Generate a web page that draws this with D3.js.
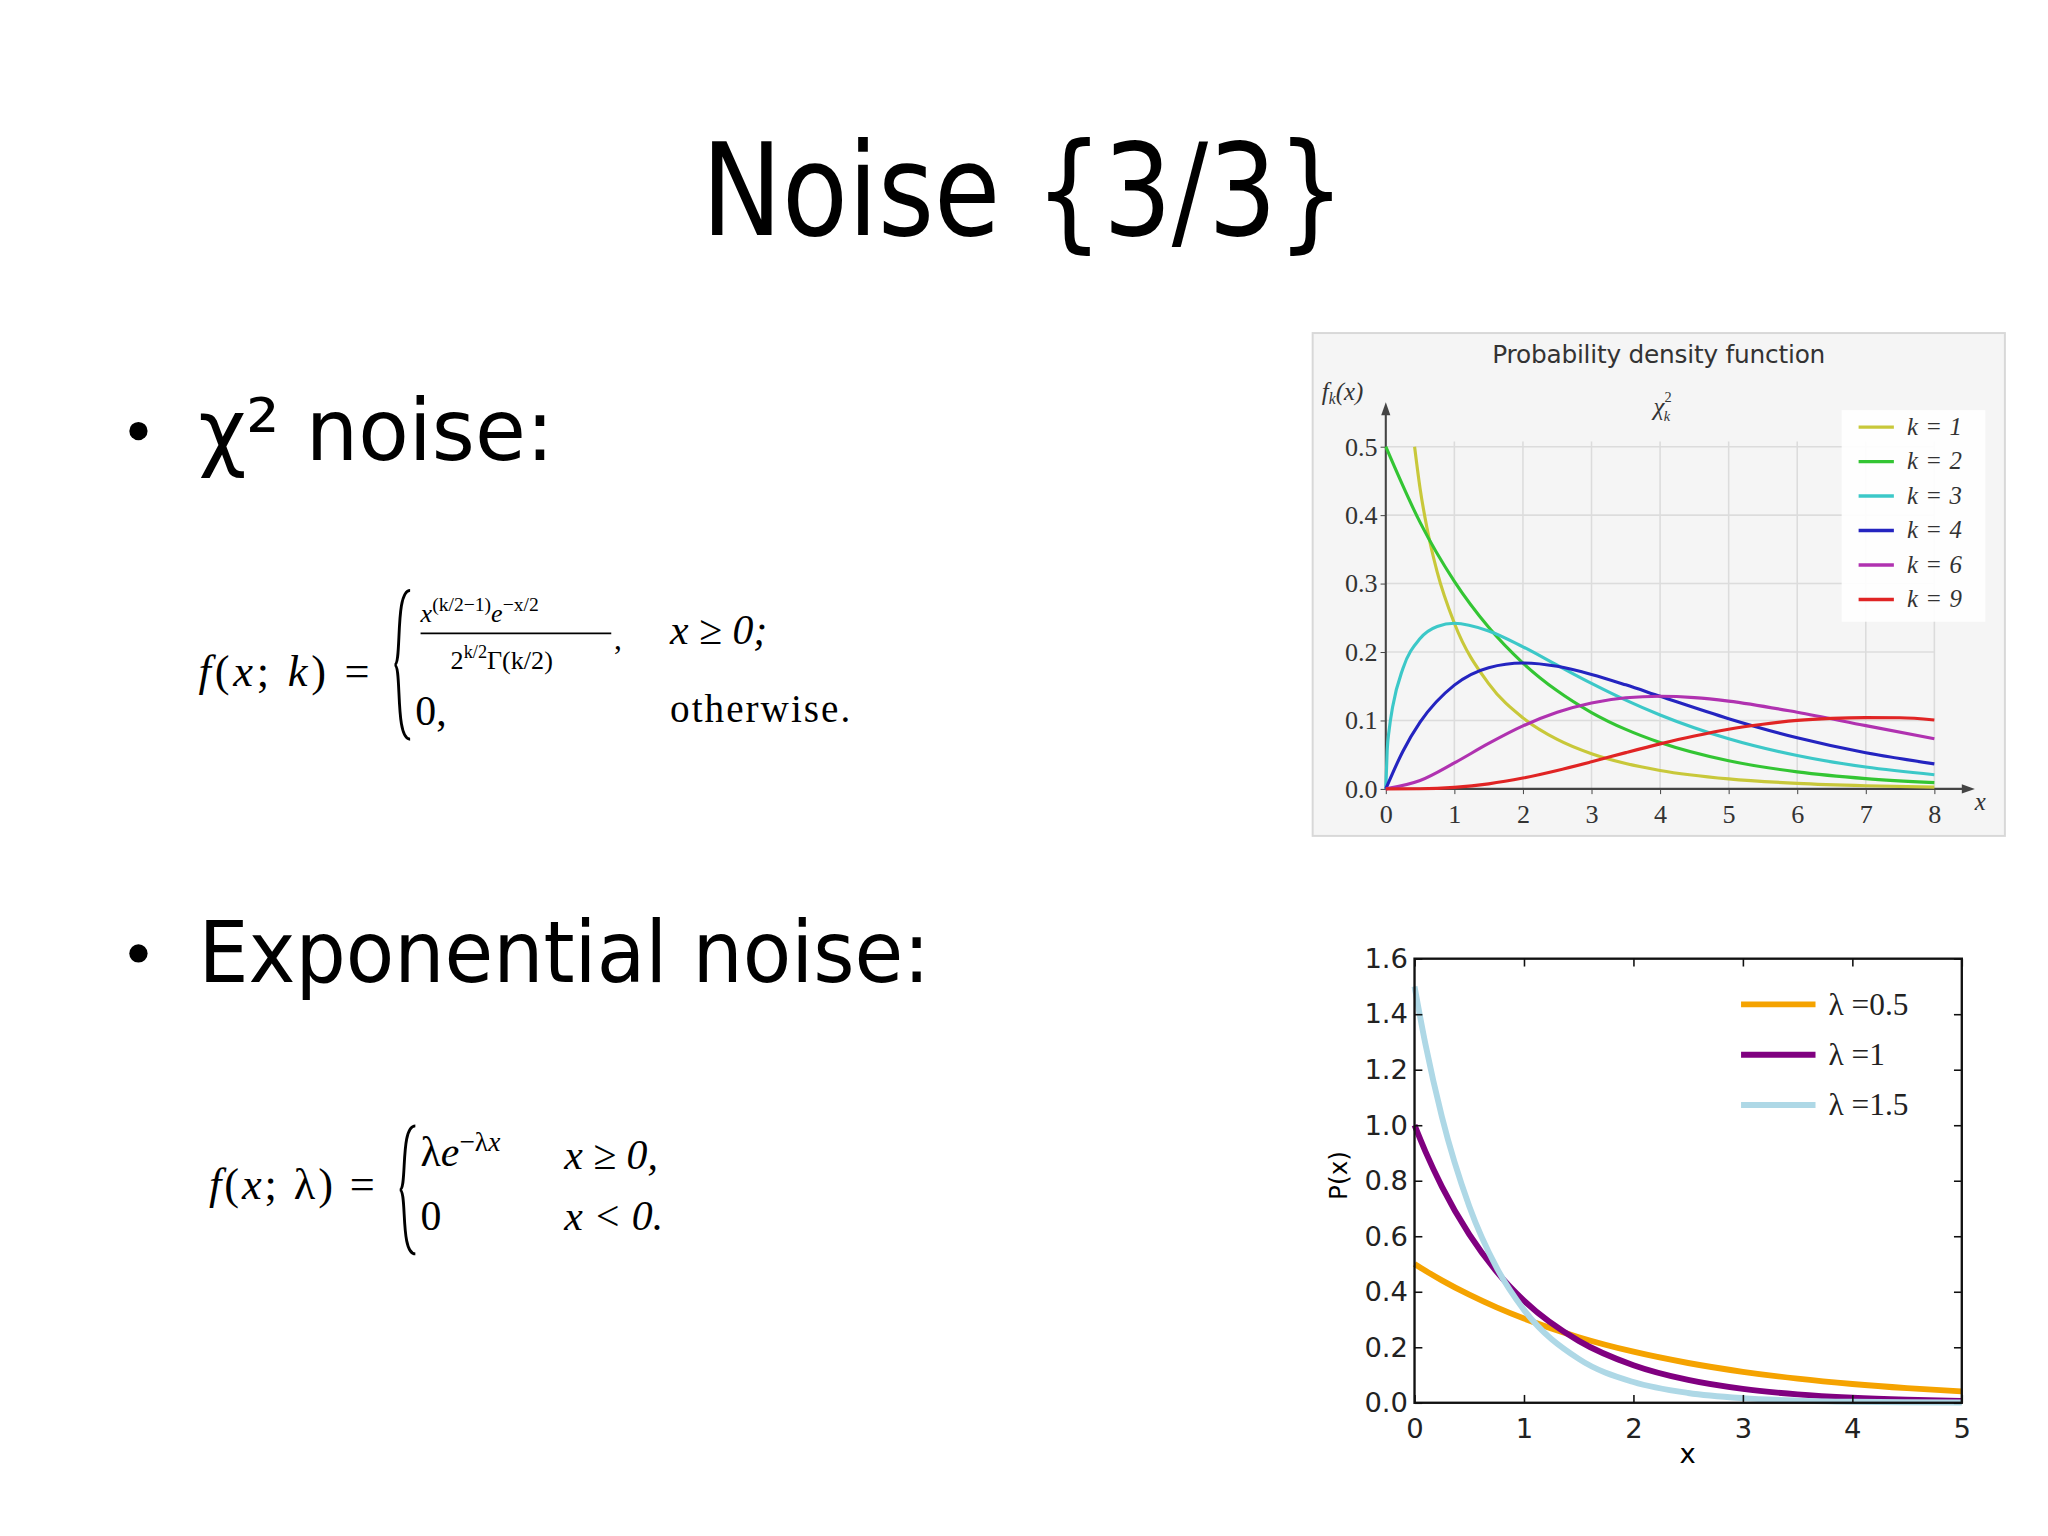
<!DOCTYPE html>
<html><head><meta charset="utf-8">
<script src="https://cdn.jsdelivr.net/npm/d3@7"></script>
<style>body{margin:0;background:#fff}svg{display:block}</style>
</head><body>
<script>
// ---- data ----
const chiSeries = ["k=1","k=2","k=3","k=4","k=6","k=9"];
const chiColors = ["#c8c83a","#33c533","#3cc8c8","#2424c0","#b032b0","#e02424"];
const chiX1 = [0.42,0.5,0.6,0.75,1,1.5,2,2.5,3,3.5,4,5,6,7,8];
const chiY1 = [0.5,0.439,0.3815,0.3166,0.242,0.1539,0.1038,0.0723,0.0514,0.0371,0.027,0.01465,0.0081,0.00455,0.00258];
const chiX2 = [0,0.5,1,1.5,2,2.5,3,3.5,4,5,6,7,8];
const chiY2 = [0.5,0.3894,0.3033,0.2362,0.1839,0.1433,0.1116,0.0869,0.0677,0.041,0.0249,0.0151,0.0092];
const chiX3 = [0,0.02,0.05,0.1,0.25,0.5,0.75,1,1.5,2,2.5,3,3.5,4,5,6,7,8];
const chiY3 = [0,0.056,0.087,0.12,0.176,0.2197,0.2374,0.242,0.2308,0.2076,0.1807,0.1542,0.1297,0.108,0.0732,0.0487,0.0319,0.0207];
const chiX4 = [0,0.25,0.5,1,1.5,2,2.5,3,3.5,4,5,6,7,8];
const chiY4 = [0,0.0551,0.0974,0.1516,0.1771,0.1839,0.1791,0.1673,0.152,0.1353,0.1026,0.0747,0.0528,0.0366];
const chiX6 = [0,0.5,1,1.5,2,2.5,3,3.5,4,4.5,5,6,7,8];
const chiY6 = [0,0.0122,0.0379,0.0664,0.092,0.1119,0.1255,0.1331,0.1353,0.1334,0.1283,0.112,0.0925,0.0733];
const chiX9 = [0,0.5,1,1.5,2,2.5,3,3.5,4,4.5,5,5.5,6,6.5,7,7.5,8];
const chiY9 = [0,0.00026,0.0023,0.0074,0.0158,0.0269,0.0396,0.053,0.0658,0.0773,0.0872,0.0945,0.1001,0.103,0.1041,0.104,0.1007];
const chiXTicks = [0,1,2,3,4,5,6,7,8];
const chiYTicks = [0,0.1,0.2,0.3,0.4,0.5];

const expSeries = ["λ =0.5","λ =1","λ =1.5"];
const expColors = ["#f5a300","#800080","#aed8e6"];
const expX = [0,0.1,0.25,0.5,0.75,1,1.5,2,2.5,3,3.5,4,4.5,5];
const expY05 = [0.5,0.4756,0.4412,0.3894,0.3436,0.3033,0.2362,0.1839,0.1433,0.1116,0.0869,0.0677,0.0527,0.041];
const expY1 = [1,0.9048,0.7788,0.6065,0.4724,0.3679,0.2231,0.1353,0.0821,0.0498,0.0302,0.0183,0.0111,0.0067];
const expY15 = [1.5,1.291,1.0307,0.7085,0.4869,0.3347,0.1581,0.0747,0.0353,0.0167,0.0079,0.0037,0.0018,0.0008];
const expXTicks = [0,1,2,3,4,5];
const expYTicks = [0,0.2,0.4,0.6,0.8,1.0,1.2,1.4,1.6];

// ---- page ----
const S = 2048/1568;
const svg = d3.select("body").append("svg").attr("width",2048).attr("height",1536);
const sans = "DejaVu Sans, Verdana, sans-serif";
const lserif = "'Liberation Serif','DejaVu Serif',serif";

svg.append("text").attr("x",537*S).attr("y",180*S)
  .attr("font-family",sans).attr("font-size",98*S)
  .attr("textLength",493*S).attr("lengthAdjust","spacingAndGlyphs").text("Noise {3/3}");

function bullet(y, txt, len){
  svg.append("circle").attr("cx",106*S).attr("cy",(y-22)*S).attr("r",7*S).attr("fill","#000");
  svg.append("text").attr("x",152*S).attr("y",y*S).attr("font-family",sans).attr("font-size",66*S)
    .attr("textLength",len*S).attr("lengthAdjust","spacingAndGlyphs").text(txt);
}
bullet(352,"χ² noise:",272);
bullet(752,"Exponential noise:",560);

// formulas
function t(x,y,txt,size,italic,anchor){
  return svg.append("text").attr("x",x*S).attr("y",y*S).attr("font-family",lserif)
    .attr("font-size",size*S).attr("font-style",italic?"italic":"normal")
    .attr("text-anchor",anchor||"start").text(txt);
}
function brace(x,y1,y2){
  const ym=(y1+y2)/2, w=12;
  svg.append("path").attr("d",`M${(x+w)*S},${y1*S} C${x*S},${y1*S} ${(x+w/2)*S},${ym*S} ${x*S},${ym*S} C${(x+w/2)*S},${ym*S} ${x*S},${y2*S} ${(x+w)*S},${y2*S}`)
    .attr("fill","none").attr("stroke","#000").attr("stroke-width",2.2*S);
}
const f1 = t(152,525,"",34,false).attr("textLength",131*S).attr("lengthAdjust","spacing");
f1.append("tspan").attr("font-style","italic").text("f");
f1.append("tspan").text("(");
f1.append("tspan").attr("font-style","italic").text("x");
f1.append("tspan").text("; ");
f1.append("tspan").attr("font-style","italic").text("k");
f1.append("tspan").text(") =");
brace(302,452,566);
const num = t(322,476,"",20,false);
num.append("tspan").attr("font-style","italic").text("x");
num.append("tspan").attr("dy",-8*S).attr("font-size",15*S).text("(k/2−1)");
num.append("tspan").attr("dy",8*S).attr("font-style","italic").text("e");
num.append("tspan").attr("dy",-8*S).attr("font-size",15*S).text("−x/2");
svg.append("line").attr("x1",322*S).attr("x2",468*S).attr("y1",485*S).attr("y2",485*S).attr("stroke","#000").attr("stroke-width",1.3*S);
const den = t(345,512,"",20,false);
den.append("tspan").text("2");
den.append("tspan").attr("dy",-8*S).attr("font-size",14*S).text("k/2");
den.append("tspan").attr("dy",8*S).text("Γ(k/2)");
t(470,497,",",24,false);
t(513,493,"x ≥ 0;",32,true);
t(318,555,"0,",32,false);
t(513,553,"otherwise.",30,false).attr("textLength",138*S);

const f2 = t(160,918,"",34,false).attr("textLength",127*S).attr("lengthAdjust","spacing");
f2.append("tspan").attr("font-style","italic").text("f");
f2.append("tspan").text("(");
f2.append("tspan").attr("font-style","italic").text("x");
f2.append("tspan").text("; λ) =");
brace(306,862,960);
const e2 = t(322,893,"",32,false);
e2.append("tspan").text("λ");
e2.append("tspan").attr("font-style","italic").text("e");
e2.append("tspan").attr("dy",-12*S).attr("font-size",21*S).text("−λ");
e2.append("tspan").attr("font-size",21*S).attr("font-style","italic").text("x");
t(432,895,"x ≥ 0,",32,true);
t(322,942,"0",32,false);
t(432,942,"x < 0.",32,true);

// ---- chi-square chart ----
const g1 = svg.append("g");
g1.append("rect").attr("x",1005*S).attr("y",255*S).attr("width",530*S).attr("height",385*S)
  .attr("fill","#f5f5f5").attr("stroke","#d8d8d8").attr("stroke-width",1.5*S);
const x1 = d3.scaleLinear().domain([0,8]).range([1061*S,1481*S]);
const y1 = d3.scaleLinear().domain([0,0.5]).range([604*S,342*S]);
g1.selectAll(".vg").data(chiXTicks.slice(1)).join("line")
  .attr("x1",d=>x1(d)).attr("x2",d=>x1(d)).attr("y1",y1(0)).attr("y2",y1(0.5)-4*S)
  .attr("stroke","#dcdcdc").attr("stroke-width",1.2*S);
g1.selectAll(".hg").data(chiYTicks.slice(1)).join("line")
  .attr("x1",x1(0)).attr("x2",x1(8)).attr("y1",d=>y1(d)).attr("y2",d=>y1(d))
  .attr("stroke","#dcdcdc").attr("stroke-width",1.2*S);
const ax1 = g1.append("g").attr("transform",`translate(0,${y1(0)})`)
  .call(d3.axisBottom(x1).tickValues(chiXTicks).tickSize(4*S).tickFormat(d3.format("d")));
const ay1 = g1.append("g").attr("transform",`translate(${x1(0)},0)`)
  .call(d3.axisLeft(y1).tickValues(chiYTicks).tickSize(4*S).tickFormat(d3.format(".1f")));
[ax1,ay1].forEach(a=>{a.select(".domain").remove();
  a.selectAll("text").attr("font-family",lserif).attr("font-size",20*S).attr("fill","#333");
  a.selectAll("line").attr("stroke","#444");});
ax1.selectAll("text").attr("dy","1.0em");
g1.append("line").attr("x1",x1(0)).attr("x2",1508*S).attr("y1",y1(0)).attr("y2",y1(0)).attr("stroke","#444").attr("stroke-width",1.6*S);
g1.append("line").attr("x1",x1(0)).attr("x2",x1(0)).attr("y1",y1(0)).attr("y2",312*S).attr("stroke","#444").attr("stroke-width",1.6*S);
g1.append("path").attr("d",`M${1512*S},${y1(0)} l${-10*S},${-3.5*S} l0,${7*S}z`).attr("fill","#444");
g1.append("path").attr("d",`M${x1(0)},${308*S} l${-3.5*S},${10*S} l${7*S},0z`).attr("fill","#444");
g1.append("text").attr("x",1270*S).attr("y",278*S).attr("text-anchor","middle").attr("font-family",sans).attr("font-size",19*S).attr("fill","#333")
  .attr("textLength",255*S).text("Probability density function");
const fk = g1.append("text").attr("x",1012*S).attr("y",306*S).attr("font-family",lserif).attr("font-style","italic").attr("font-size",19*S).attr("fill","#333");
fk.append("tspan").text("f");fk.append("tspan").attr("font-size",12*S).attr("dy",3*S).text("k");fk.append("tspan").attr("dy",-3*S).text("(x)");
const ch = g1.append("text").attr("x",1266*S).attr("y",318*S).attr("font-family",lserif).attr("font-style","italic").attr("font-size",19*S).attr("fill","#333");
ch.append("tspan").text("χ");ch.append("tspan").attr("font-size",11*S).attr("dy",-10*S).attr("font-style","normal").text("2");
ch.append("tspan").attr("font-size",11*S).attr("dx",-6*S).attr("dy",14*S).text("k");
g1.append("text").attr("x",1512*S).attr("y",620*S).attr("font-family",lserif).attr("font-style","italic").attr("font-size",19*S).attr("fill","#333").text("x");

const chiData = [[chiX1,chiY1],[chiX2,chiY2],[chiX3,chiY3],[chiX4,chiY4],[chiX6,chiY6],[chiX9,chiY9]];
const line1 = d3.line().x(d=>x1(d[0])).y(d=>y1(d[1])).curve(d3.curveMonotoneX);
chiData.forEach((s,i)=>{
  g1.append("path").datum(s[0].map((v,j)=>[v,s[1][j]])).attr("d",line1)
    .attr("fill","none").attr("stroke",chiColors[i]).attr("stroke-width",2.4*S);
});
g1.append("rect").attr("x",1410*S).attr("y",314*S).attr("width",110*S).attr("height",162*S).attr("fill","#fff").attr("opacity",0.9);
chiSeries.forEach((n,i)=>{
  const yy = (327+i*26.4)*S;
  g1.append("line").attr("x1",1423*S).attr("x2",1450*S).attr("y1",yy).attr("y2",yy).attr("stroke",chiColors[i]).attr("stroke-width",2.6*S);
  g1.append("text").attr("x",1460*S).attr("y",yy+6*S).attr("font-family",lserif).attr("font-style","italic").attr("font-size",19*S).attr("fill","#333")
    .attr("textLength",42*S).text(n);
});

// ---- exponential chart ----
const g2 = svg.append("g");
const x2 = d3.scaleLinear().domain([0,5]).range([1083*S,1502*S]);
const y2 = d3.scaleLinear().domain([0,1.6]).range([1074*S,734*S]);
const line2 = d3.line().x(d=>x2(d[0])).y(d=>y2(d[1])).curve(d3.curveMonotoneX);
[expY05,expY1,expY15].forEach((ys,i)=>{
  g2.append("path").datum(expX.map((v,j)=>[v,ys[j]])).attr("d",line2)
    .attr("fill","none").attr("stroke",expColors[i]).attr("stroke-width",4.5*S);
});
g2.append("rect").attr("x",x2(0)).attr("y",y2(1.6)).attr("width",x2(5)-x2(0)).attr("height",y2(0)-y2(1.6))
  .attr("fill","none").attr("stroke","#111").attr("stroke-width",1.8*S);
const ax2 = g2.append("g").attr("transform",`translate(0,${y2(0)})`)
  .call(d3.axisBottom(x2).tickValues(expXTicks).tickSize(-6*S).tickPadding(8*S).tickFormat(d3.format("d")));
const ay2 = g2.append("g").attr("transform",`translate(${x2(0)},0)`)
  .call(d3.axisLeft(y2).tickValues(expYTicks).tickSize(-6*S).tickPadding(5*S).tickFormat(d3.format(".1f")));
const ax2t = g2.append("g").attr("transform",`translate(0,${y2(1.6)})`).call(d3.axisTop(x2).tickValues(expXTicks).tickSize(-6*S).tickFormat(""));
const ay2r = g2.append("g").attr("transform",`translate(${x2(5)},0)`).call(d3.axisRight(y2).tickValues(expYTicks).tickSize(-6*S).tickFormat(""));
[ax2,ay2,ax2t,ay2r].forEach(a=>{a.select(".domain").remove();
  a.selectAll("text").attr("font-family",sans).attr("font-size",21*S).attr("fill","#222");
  a.selectAll("line").attr("stroke","#111").attr("stroke-width",1.2*S);});
ax2.selectAll("text").attr("dy","0.9em");
g2.append("text").attr("x",1292*S).attr("y",1120*S).attr("text-anchor","middle").attr("font-family",sans).attr("font-size",21*S).text("x");
g2.append("text").attr("transform",`translate(${1031*S},${900*S}) rotate(-90)`).attr("text-anchor","middle").attr("font-family",sans).attr("font-size",19*S).text("P(x)");
expSeries.forEach((n,i)=>{
  const yy=(769+i*38.5)*S;
  g2.append("line").attr("x1",1333*S).attr("x2",1390*S).attr("y1",yy).attr("y2",yy).attr("stroke",expColors[i]).attr("stroke-width",4.5*S);
  g2.append("text").attr("x",1400*S).attr("y",yy+8*S).attr("font-family",lserif).attr("font-size",24*S).attr("fill","#222").text(n);
});
</script>
</body></html>
